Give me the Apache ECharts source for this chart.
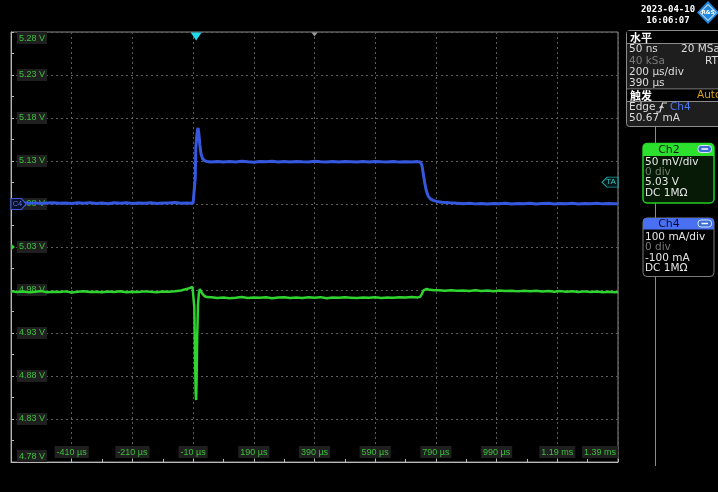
<!DOCTYPE html>
<html>
<head>
<meta charset="utf-8">
<script src="https://cdn.jsdelivr.net/npm/echarts@6/dist/echarts.min.js"></script>
<style>
html,body{margin:0;padding:0;background:#000;}
#chart{width:718px;height:492px;}
</style>
</head>
<body>
<div id="chart"></div>
<script>
// ---- tick labels ----
const xTickLabels = ['-610 µs','-410 µs','-210 µs','-10 µs','190 µs','390 µs','590 µs','790 µs','990 µs','1.19 ms','1.39 ms'];
const yTickLabels = ['4.78 V','4.83 V','4.88 V','4.93 V','4.98 V','5.03 V','5.08 V','5.13 V','5.18 V','5.23 V','5.28 V'];

// ---- Ch4 (current, mA) ----
const ch4Time = [-610,-590,-570,-550,-530,-510,-490,-470,-450,-430,-410,-390,-370,-350,-330,-310,-290,-270,-250,-230,-210,-190,-170,-150,-130,-110,-90,-70,-50,-30,-10,
  -5,-3,-1,2,4.5,6.5,9,12,16,21,27,35,50,
  70,90,110,130,150,170,190,210,230,250,270,290,310,330,350,370,390,410,430,450,470,490,510,530,550,570,590,610,630,650,670,690,710,730,
  739,744,748,753,758,764,772,781,792,810,836,860,
  880,900,920,940,960,980,1000,1020,1040,1060,1080,1100,1120,1140,1160,1180,1200,1220,1240,1260,1280,1300,1320,1340,1360,1380,1390];
const ch4Current = [2.5,1.2,3.0,1.8,2.6,0.9,2.2,3.1,1.5,2.4,1.1,2.8,2.0,3.2,1.4,2.3,0.8,2.7,1.9,3.0,1.3,2.5,1.7,2.9,1.0,2.4,2.1,3.3,1.6,2.2,1.8,
  1.9,60,130,158,172,177,163,139,117,106,101,99,97.5,
  99.1,97.6,98.8,97.9,99.4,98.2,97.3,98.9,98.0,99.2,97.7,98.6,97.5,99.0,98.3,97.8,99.3,98.1,97.4,98.7,97.9,99.1,98.4,97.6,98.8,97.5,99.0,98.2,97.8,98.9,97.4,98.5,97.9,98.6,
  97,90,72,50,32,19,12,8.5,6,4.2,2.8,1.8,
  0.6,1.9,0.3,1.4,-0.2,1.1,0.5,1.8,0.0,1.2,0.7,1.6,-0.1,0.9,1.5,0.2,1.3,0.6,1.7,0.1,1.0,0.4,1.6,0.3,1.2,0.8,0.5];

// ---- Ch2 (voltage, V) ----
const ch2Time = [-610,-590,-570,-550,-530,-510,-490,-470,-450,-430,-410,-390,-370,-350,-330,-310,-290,-270,-250,-230,-210,-190,-170,-150,-130,-110,-90,
  -70,-50,-35,-22,-12,-8,
  -6,-3.5,-1.5,0,1.5,3.5,6,9,12,16,21,27,35,
  50,70,90,110,130,150,170,190,210,230,250,270,290,310,330,350,370,390,410,430,450,470,490,510,530,550,570,590,610,630,650,670,690,710,730,
  738,744,749,754,760,770,785,
  800,820,840,860,880,900,920,940,960,980,1000,1020,1040,1060,1080,1100,1120,1140,1160,1180,1200,1220,1240,1260,1280,1300,1320,1340,1360,1380,1390];
const ch2Voltage = [4.9785,4.9776,4.9782,4.9773,4.9780,4.9787,4.9775,4.9781,4.9777,4.9784,4.9772,4.9779,4.9786,4.9776,4.9781,4.9774,4.9783,4.9778,4.9785,4.9773,4.9780,4.9777,4.9784,4.9779,4.9775,4.9782,4.9779,
  4.9785,4.9795,4.9808,4.9822,4.9835,4.9840,
  4.960,4.900,4.860,4.852,4.875,4.925,4.962,4.976,4.9812,4.9785,4.9755,4.9730,4.9718,
  4.9716,4.9708,4.9714,4.9705,4.9711,4.9718,4.9707,4.9713,4.9709,4.9716,4.9704,4.9712,4.9717,4.9708,4.9713,4.9706,4.9715,4.9710,4.9717,4.9705,4.9712,4.9709,4.9716,4.9711,4.9706,4.9714,4.9710,4.9717,4.9707,4.9713,4.9709,4.9715,4.9712,4.9718,4.9714,
  4.9720,4.9755,4.9795,4.9818,4.9812,4.9802,4.9797,
  4.9797,4.9790,4.9798,4.9791,4.9795,4.9788,4.9796,4.9789,4.9794,4.9786,4.9793,4.9787,4.9792,4.9784,4.9791,4.9785,4.9790,4.9782,4.9788,4.9781,4.9787,4.9779,4.9785,4.9778,4.9784,4.9776,4.9782,4.9775,4.9781,4.9774,4.9778];

// ---- scope settings ----
const timeRef = -10;          // µs at the 4th vertical gridline (axis value 0)
const ch2Offset = 5.03;       // V at screen centre
const triggerTime = 0;        // µs
const horizPos = 390;         // µs
const triggerLevel = 50.67;   // mA

const ch4Data = ch4Time.map((t, i) => [t - timeRef, ch4Current[i]]);
const ch2Data = ch2Time.map((t, i) => [t - timeRef, (ch2Voltage[i] - ch2Offset) * 1000]);

const chart = echarts.init(document.getElementById('chart'), null, {renderer: 'canvas'});

const labelGreen = '#3cc03c';
const panelFont = '10.5px "DejaVu Sans"';
function txt(x, y, text, fill, font, align) {
  return {type: 'text', z: 20, style: {x: x, y: y, text: text, fill: fill, font: font || panelFont, textAlign: align || 'left', textVerticalAlign: 'middle'}};
}

const graphics = [
  {type: 'line', z: 10, shape: {x1: 655.5, y1: 127, x2: 655.5, y2: 466}, style: {stroke: '#8a8a8a', lineWidth: 1}},
  txt(668, 10, '2023-04-10', '#ffffff', 'bold 9px "DejaVu Sans Mono"', 'center'),
  txt(668, 20.5, '16:06:07', '#ffffff', 'bold 9px "DejaVu Sans Mono"', 'center'),
  {type: 'polygon', z: 20, shape: {points: [[708, 1], [719, 12.5], [708, 24], [697, 12.5]]}, style: {fill: '#2288dd'}},
  {type: 'polygon', z: 21, shape: {points: [[708, 4.5], [716, 12.5], [708, 20.5], [700, 12.5]]}, style: {fill: 'none', stroke: '#ffffff', lineWidth: 1}},
  txt(708, 12.5, 'R&S', '#ffffff', 'bold 5.5px "DejaVu Sans"', 'center'),
  {type: 'rect', z: 15, shape: {x: 626.5, y: 30.5, width: 100, height: 96, r: 3}, style: {fill: '#1e1e1e', stroke: '#8c8c8c', lineWidth: 1}},
  {type: 'rect', z: 16, shape: {x: 627, y: 31, width: 92, height: 12}, style: {fill: '#000000'}},
  {type: 'line', z: 16, shape: {x1: 627, y1: 43.5, x2: 718, y2: 43.5}, style: {stroke: '#8c8c8c', lineWidth: 1}},
  txt(630, 37.5, '水平', '#ffffff', 'bold 11px "Noto Sans CJK SC"'),
  txt(629, 49.5, '50 ns', '#dcdcdc'),
  txt(681, 49.5, '20 MSa/s', '#dcdcdc'),
  txt(629, 61, '40 kSa', '#7a7a7a'),
  txt(705, 61, 'RT', '#dcdcdc'),
  txt(629, 72, '200 µs/div', '#dcdcdc'),
  txt(629, 83, '390 µs', '#dcdcdc'),
  {type: 'line', z: 16, shape: {x1: 627, y1: 89, x2: 718, y2: 89}, style: {stroke: '#8c8c8c', lineWidth: 1}},
  {type: 'rect', z: 16, shape: {x: 627, y: 89.5, width: 92, height: 12}, style: {fill: '#000000'}},
  {type: 'line', z: 16, shape: {x1: 627, y1: 101.5, x2: 718, y2: 101.5}, style: {stroke: '#8c8c8c', lineWidth: 1}},
  txt(630, 95.5, '触发', '#ffffff', 'bold 11px "Noto Sans CJK SC"'),
  txt(697, 95.5, 'Auto', '#d9a21e'),
  txt(629, 107.5, 'Edge', '#dcdcdc'),
  {type: 'polyline', z: 20, shape: {points: [[656, 112], [660, 112], [662.5, 103], [667, 103]]}, style: {stroke: '#dcdcdc', lineWidth: 1.2, fill: 'none'}},
  {type: 'polyline', z: 20, shape: {points: [[659.5, 108], [661.5, 106], [663.5, 108]]}, style: {stroke: '#dcdcdc', lineWidth: 1.2, fill: 'none'}},
  txt(670, 107.5, 'Ch4', '#4a78f0'),
  txt(629, 118.5, '50.67 mA', '#dcdcdc'),
  {type: 'rect', z: 15, shape: {x: 643, y: 143.5, width: 71, height: 59.5, r: 4}, style: {fill: '#061a06', stroke: '#22d022', lineWidth: 1.5}},
  {type: 'rect', z: 16, shape: {x: 643, y: 143.5, width: 71, height: 12.5, r: [4, 4, 0, 0]}, style: {fill: '#2ee02e'}},
  txt(669, 150, 'Ch2', '#0a1e0a', '11px "DejaVu Sans"', 'center'),
  {type: 'rect', z: 17, shape: {x: 698, y: 145.5, width: 13.5, height: 7, r: 3}, style: {fill: '#3b6fd4', stroke: '#d8e6ff', lineWidth: 1}},
  {type: 'line', z: 18, shape: {x1: 701.5, y1: 149, x2: 708, y2: 149}, style: {stroke: '#ffffff', lineWidth: 1.5}},
  txt(645, 162.5, '50 mV/div', '#e6e6e6'),
  txt(645, 172.5, '0 div', '#6f7f6f'),
  txt(645, 182.5, '5.03 V', '#e6e6e6'),
  txt(645, 193, 'DC 1MΩ', '#e6e6e6'),
  {type: 'rect', z: 15, shape: {x: 643, y: 218, width: 71, height: 58.5, r: 4}, style: {fill: '#000000', stroke: '#7a7a7a', lineWidth: 1}},
  {type: 'rect', z: 16, shape: {x: 643, y: 218, width: 71, height: 11.5, r: [4, 4, 0, 0]}, style: {fill: '#4a70f2'}},
  txt(669, 224, 'Ch4', '#0a0a30', '11px "DejaVu Sans"', 'center'),
  {type: 'rect', z: 17, shape: {x: 698, y: 220, width: 13.5, height: 7, r: 3}, style: {fill: '#3b6fd4', stroke: '#d8e6ff', lineWidth: 1}},
  {type: 'line', z: 18, shape: {x1: 701.5, y1: 223.5, x2: 708, y2: 223.5}, style: {stroke: '#ffffff', lineWidth: 1.5}},
  txt(645, 237.5, '100 mA/div', '#e6e6e6'),
  txt(645, 247.5, '0 div', '#777777'),
  txt(645, 258, '-100 mA', '#e6e6e6'),
  txt(645, 268, 'DC 1MΩ', '#e6e6e6')
];

const axisLabelBase = {
  inside: true,
  color: labelGreen,
  fontSize: 9,
  fontFamily: 'Liberation Sans',
  backgroundColor: '#1f1f1f',
  padding: [2, 2, 1, 2]
};

const option = {
  backgroundColor: '#000000',
  animation: false,
  grid: {left: 11, top: 32, width: 607, height: 430, show: true, borderColor: '#8c8c8c', borderWidth: 1, backgroundColor: 'transparent'},
  xAxis: {
    type: 'value', min: -600, max: 1400, interval: 200,
    axisLine: {show: true, onZero: false, lineStyle: {color: '#b8b8b8'}},
    axisTick: {show: true, inside: true, length: 3, lineStyle: {color: '#b8b8b8'}},
    minorTick: {show: true, splitNumber: 2, length: 3, lineStyle: {color: '#b8b8b8'}},
    splitLine: {show: true, lineStyle: {color: '#5c5c5c', type: [2, 3]}},
    axisLabel: Object.assign({}, axisLabelBase, {
      margin: 4, showMinLabel: false, alignMaxLabel: 'right',
      formatter: v => xTickLabels[Math.round((v + 600) / 200)]
    })
  },
  yAxis: [{
    type: 'value', min: -250, max: 250, interval: 50,
    axisLine: {show: true, onZero: false, lineStyle: {color: '#b8b8b8'}},
    axisTick: {show: true, inside: true, length: 3, lineStyle: {color: '#b8b8b8'}},
    minorTick: {show: true, splitNumber: 2, length: 3, lineStyle: {color: '#b8b8b8'}},
    splitLine: {show: true, lineStyle: {color: '#5c5c5c', type: [2, 3]}},
    axisLabel: Object.assign({}, axisLabelBase, {
      margin: 6, verticalAlignMinLabel: 'bottom', verticalAlignMaxLabel: 'top',
      formatter: v => yTickLabels[Math.round((v + 250) / 50)]
    })
  }, {
    type: 'value', min: -600, max: 400, interval: 100, show: false,
    axisLine: {onZero: false},
    splitLine: {show: false}
  }],
  series: [{
    name: 'Ch2', type: 'line', xAxisIndex: 0, yAxisIndex: 0,
    data: ch2Data, showSymbol: false, symbol: 'none', z: 3,
    lineStyle: {color: '#2fd42f', width: 2.5},
    markPoint: {
      animation: false,
      data: [
        {coord: [-600, 0], symbol: 'path://M0,0L5,4L0,8Z', symbolSize: [4, 7], symbolOffset: [2, 0],
          itemStyle: {color: '#2fd42f'}, label: {show: false}}
      ]
    }
  }, {
    name: 'Ch4', type: 'line', xAxisIndex: 0, yAxisIndex: 1,
    data: ch4Data, showSymbol: false, symbol: 'none', z: 4,
    lineStyle: {color: '#3558de', width: 3},
    markPoint: {
      animation: false,
      data: [
        {coord: [-600, 0], symbol: 'path://M0,0L11,0L16,5L11,10L0,10Z', symbolSize: [15, 11], symbolOffset: [7.5, 0],
          itemStyle: {color: '#0a0f2a', borderColor: '#3a5ad6', borderWidth: 1},
          label: {show: true, position: 'inside', formatter: 'C4', color: '#5c78e6', fontSize: 7.5, fontFamily: 'Liberation Sans', offset: [-1, 0]}},
        {coord: [1400, triggerLevel], symbol: 'path://M5,0L16,0L16,10L5,10L0,5Z', symbolSize: [16, 10], symbolOffset: [-8, 0],
          itemStyle: {color: '#041616', borderColor: '#1fa0a0', borderWidth: 1},
          label: {show: true, position: 'inside', formatter: 'TA', color: '#3cc4c4', fontSize: 8, fontFamily: 'Liberation Sans', offset: [1, 0]}},
        {coord: [triggerTime - timeRef, 400], symbol: 'path://M0,0L10,0L5,8Z', symbolSize: [11, 8], symbolOffset: [0, 4.5],
          itemStyle: {color: '#22d8ea'}, label: {show: false}},
        {coord: [horizPos - timeRef, 400], symbol: 'path://M0,0L10,0L5,7Z', symbolSize: [6, 4], symbolOffset: [0, 2.5],
          itemStyle: {color: '#9a9a9a'}, label: {show: false}}
      ]
    }
  }],
  graphic: graphics
};
chart.setOption(option);
</script>
</body>
</html>
